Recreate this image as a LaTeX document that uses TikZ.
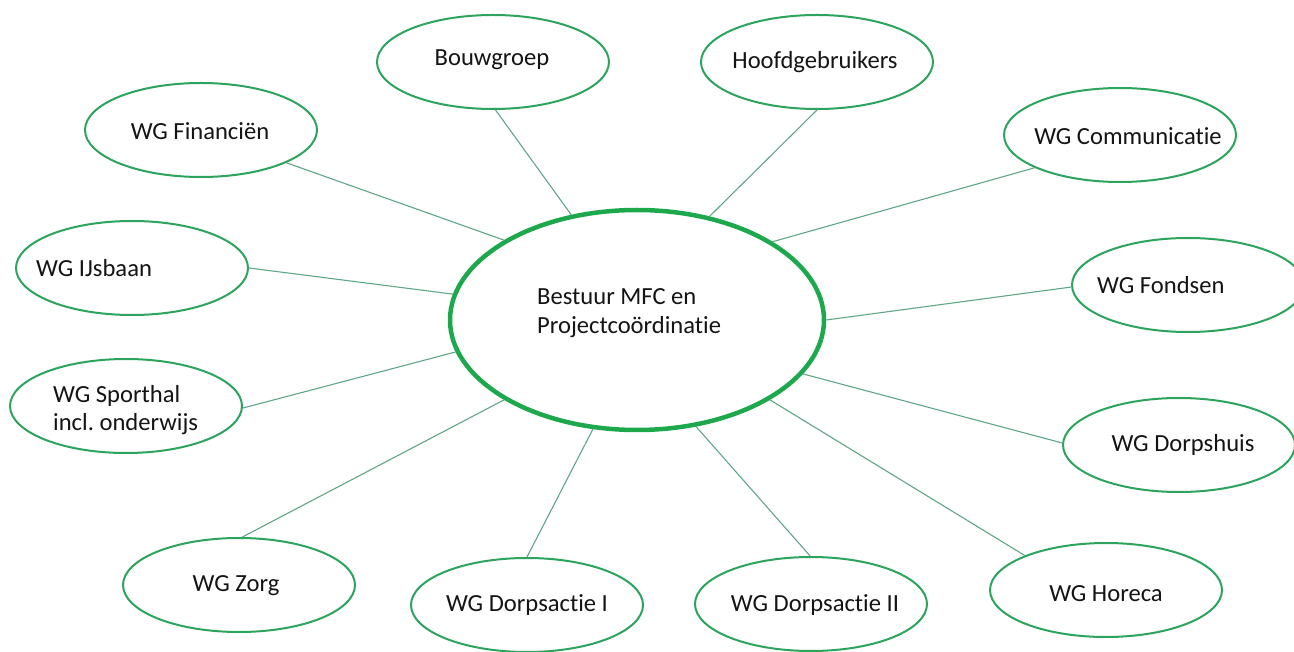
\documentclass[tikz,border=0pt]{standalone}
\usepackage{fontspec}
\setmainfont{Carlito}[Ligatures=NoCommon]
\usetikzlibrary{shapes.geometric}
\definecolor{mainGreen}{RGB}{30,168,78}
\definecolor{outerGreen}{RGB}{44,164,94}
\definecolor{linkCol}{RGB}{96,166,134}
\definecolor{txtCol}{RGB}{20,20,20}
\tikzset{
  hub/.style={ellipse, draw=mainGreen, line width=4.5pt, fill=white, inner sep=0pt, minimum width=374pt, minimum height=220pt},
  wg/.style={ellipse, draw=outerGreen, line width=2pt, fill=white, inner sep=0pt, minimum width=232pt, minimum height=94pt},
  lbl/.style={inner sep=0pt, text=txtCol, font=\fontsize{24.6}{28.5}\selectfont},
  link/.style={draw=linkCol, line width=1.1pt}
}
\frenchspacing
\begin{document}
\begin{tikzpicture}[x=1pt,y=-1pt]
\useasboundingbox (0,0) rectangle (1294,652);
% nodes
\node[hub] (c) at (637,320) {};
\node[wg] (bouw) at (493,62) {};
\node[wg] (hoofd) at (817,62) {};
\node[wg] (fin) at (201,130) {};
\node[wg] (comm) at (1120,135) {};
\node[wg] (ijs) at (132,268) {};
\node[wg] (fonds) at (1188,285) {};
\node[wg] (sport) at (126,406) {};
\node[wg] (dorps) at (1179,445) {};
\node[wg] (zorg) at (239,585) {};
\node[wg] (da1) at (527,605) {};
\node[wg] (da2) at (811,604) {};
\node[wg] (hor) at (1106,590) {};
% connectors
\draw[link] (bouw.-87.7) -- (c.122);
\draw[link] (hoofd.-90) -- (c.55.7);
\draw[link] (fin.-21.4) -- (c.149.3);
\draw[link] (comm.201.8) -- (c.30.5);
\draw[link] (ijs.0) -- (c.172.3);
\draw[link] (fonds.181) -- (c.0);
\draw[link] (sport.-1) -- (c.190.6);
\draw[link] (dorps.179) -- (c.-18.3);
\draw[link] (zorg.86.4) -- (c.211.2);
\draw[link] (da1.90) -- (c.248.6);
\draw[link] (da2.91) -- (c.-61.8);
\draw[link] (hor.157.5) -- (c.-31.1);
% texts
\node[lbl, align=left, anchor=west] (ct) at (537,313) {Bestuur MFC en\\Projectcoördinatie};
\node[lbl] (tbouw) at (492,60) {Bouwgroep};
\node[lbl] (thoofd) at (815,62) {Hoofdgebruikers};
\node[lbl] (tfin) at (200,131) {WG Financiën};
\node[lbl] (tcomm) at (1128,136) {WG Communicatie};
\node[lbl, anchor=west] (tijs) at (36,268) {WG IJsbaan};
\node[lbl, anchor=west] (tfonds) at (1097,285) {WG Fondsen};
\node[lbl, align=left, anchor=west] (tsport) at (53,410) {WG Sporthal\\incl. onderwijs};
\node[lbl] (tdorps) at (1183,445) {WG Dorpshuis};
\node[lbl] (tzorg) at (236,586) {WG Zorg};
\node[lbl] (tda1) at (527,605) {WG Dorpsactie I};
\node[lbl] (tda2) at (815,605) {WG Dorpsactie II};
\node[lbl] (thor) at (1106,594) {WG Horeca};
\end{tikzpicture}
\end{document}
